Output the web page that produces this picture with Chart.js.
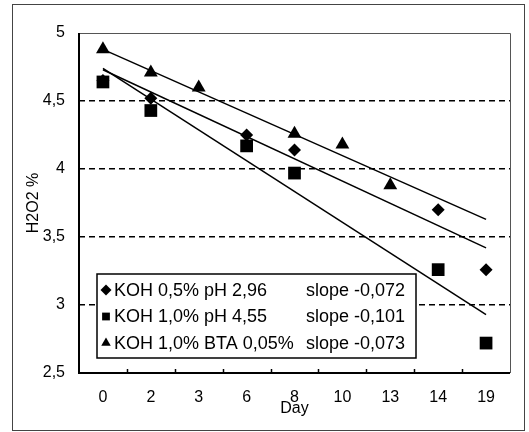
<!DOCTYPE html>
<html>
<head>
<meta charset="utf-8">
<script src="https://cdn.jsdelivr.net/npm/chart.js@4.4.0/dist/chart.umd.min.js"></script>
<style>
  body { margin: 0; background: #fff; }
  #wrap { width: 529px; height: 432px; position: relative; }
</style>
</head>
<body>
<div id="wrap"><canvas id="grafico" width="529" height="432"></canvas></div>
<script>
const dias = ["0", "2", "3", "6", "8", "10", "13", "14", "19"];

const koh05 = [4.65, 4.52, null, 4.25, 4.14, null, null, 3.70, 3.26];
const koh10 = [4.64, 4.43, null, 4.17, 3.97, null, null, 3.26, 2.72];
const kohBta = [4.88, 4.71, 4.60, null, 4.26, 4.18, 3.88, null, null];

const trend05 = [4.73, null, null, null, null, null, null, null, 3.42];
const trend10 = [4.74, null, null, null, null, null, null, null, 2.93];
const trendBta = [4.88, null, null, null, null, null, null, null, 3.63];

const legendaNomes = ["KOH 0,5% pH 2,96", "KOH 1,0% pH 4,55", "KOH 1,0% BTA 0,05%"];
const legendaSlopes = ["slope -0,072", "slope -0,101", "slope -0,073"];
const legendaMarcas = ["rectRot", "rect", "triangle"];

const fonte = "'Liberation Sans', Arial, sans-serif";

function pontos(label, data, estilo, raio) {
  return {
    label: label,
    data: data,
    showLine: false,
    pointStyle: estilo,
    pointRadius: raio,
    pointBackgroundColor: "#000",
    pointBorderColor: "#000",
    pointBorderWidth: 0,
  };
}

function tendencia(data) {
  return {
    data: data,
    spanGaps: true,
    borderColor: "#000",
    borderWidth: 1.5,
    pointRadius: 0,
  };
}

const molduraPlugin = {
  id: "moldura",
  afterDraw(chart) {
    const ctx = chart.ctx;
    const a = chart.chartArea;
    ctx.save();
    // moldura externa
    ctx.strokeStyle = "#444";
    ctx.lineWidth = 1;
    ctx.strokeRect(12.5, 4.5, 512, 426);
    // topo / direita da area
    ctx.strokeStyle = "#555";
    ctx.beginPath();
    ctx.moveTo(a.left, a.top + 0.5);
    ctx.lineTo(a.right + 0.5, a.top + 0.5);
    ctx.lineTo(a.right + 0.5, a.bottom);
    ctx.stroke();
    // eixos esquerdo / inferior
    ctx.strokeStyle = "#000";
    ctx.lineWidth = 2;
    ctx.beginPath();
    ctx.moveTo(a.left, a.top);
    ctx.lineTo(a.left, a.bottom);
    ctx.lineTo(a.right, a.bottom);
    ctx.stroke();
    // marcas do eixo x entre categorias
    const x = chart.scales.x;
    const passo = (a.right - a.left) / dias.length;
    ctx.lineWidth = 1.5;
    for (let i = 1; i < dias.length; i++) {
      const px = Math.round(a.left + passo * i) + 0.5;
      ctx.beginPath();
      ctx.moveTo(px, a.bottom);
      ctx.lineTo(px, a.bottom - 4);
      ctx.stroke();
    }
    // titulo x
    ctx.fillStyle = "#000";
    ctx.font = "16px " + fonte;
    ctx.textAlign = "center";
    ctx.textBaseline = "middle";
    ctx.fillText("Day", x.getPixelForValue(4), 409);

    // caixa da legenda
    const bx = 97, by = 274, bw = 319, bh = 84;
    ctx.fillStyle = "#fff";
    ctx.fillRect(bx, by, bw, bh);
    ctx.strokeStyle = "#000";
    ctx.lineWidth = 1.5;
    ctx.strokeRect(bx, by, bw, bh);
    ctx.font = "18px " + fonte;
    ctx.textAlign = "left";
    for (let i = 0; i < legendaNomes.length; i++) {
      const ly = 290 + i * 26.5;
      ctx.fillStyle = "#000";
      Chart.helpers.drawPoint(ctx, { pointStyle: legendaMarcas[i], radius: 5.5, borderWidth: 0 }, 106, ly);
      ctx.fillText(legendaNomes[i], 114, ly + 1);
      ctx.fillText(legendaSlopes[i], 306, ly + 1);
    }
    ctx.restore();
  }
};

const ctx = document.getElementById("grafico").getContext("2d");
const grafico = new Chart(ctx, {
  type: "line",
  data: {
    labels: dias,
    datasets: [
      tendencia(trend05),
      tendencia(trend10),
      tendencia(trendBta),
      pontos("KOH 0,5% pH 2,96", koh05, "rectRot", 6.5),
      pontos("KOH 1,0% pH 4,55", koh10, "rect", 9),
      pontos("KOH 1,0% BTA 0,05%", kohBta, "triangle", 8),
    ],
  },
  options: {
    responsive: false,
    animation: false,
    layout: { padding: { left: 12, top: 33, right: 19, bottom: 0 } },
    plugins: {
      legend: { display: false },
      tooltip: { enabled: false },
    },
    scales: {
      x: {
        offset: true,
        grid: { display: false },
        border: { display: false },
        ticks: {
          color: "#000",
          font: { family: fonte, size: 16 },
          padding: 7,
          maxRotation: 0,
        },
        afterFit: (scale) => { scale.height = 59; },
      },
      y: {
        min: 2.5,
        max: 5,
        border: { display: false, dash: [6, 4] },
        grid: {
          color: (c) => (c.tick.value > 2.5 && c.tick.value < 5 ? "#000" : "rgba(0,0,0,0)"),
          lineWidth: 1.5,
          drawTicks: false,
        },
        ticks: {
          stepSize: 0.5,
          color: "#000",
          padding: 14,
          font: { family: fonte, size: 16 },
          callback: (v) => String(v).replace(".", ","),
        },
        title: {
          display: true,
          text: "H2O2 %",
          color: "#000",
          font: { family: fonte, size: 16 },
          padding: { top: 12, bottom: 0 },
        },
        afterFit: (scale) => { scale.width = 67; },
      },
    },
  },
  plugins: [molduraPlugin],
});
</script>
</body>
</html>
